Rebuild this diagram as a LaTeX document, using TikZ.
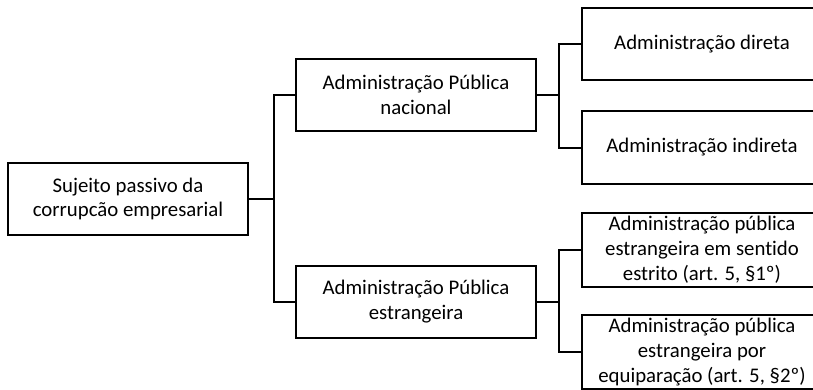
\documentclass[tikz,border=0pt]{standalone}
\usepackage{fontspec}
\setmainfont{Carlito}[Ligatures=NoCommon]
\usetikzlibrary{positioning, calc}

\begin{document}
\begin{tikzpicture}[
    x=0.5pt, y=-0.5pt,
    every node/.style={font=\fontsize{10.4}{12.4}\selectfont},
    box/.style={rectangle, draw, line width=1pt, minimum width=120pt, minimum height=36pt, inner sep=0.5pt, align=center, fill=white},
    conn/.style={line width=1pt},
]
\useasboundingbox (0,0) rectangle (813,390);

% === Root ===
\node[box] (root) at (128,199) {Sujeito passivo da\\corrupcão empresarial};

% === Second level ===
\node[box] (nac) at (416,95) {Administração Pública\\nacional};
\node[box] (est) at (416,301.5) {Administração Pública\\estrangeira};

\draw[conn] (root.east) -- ++(25,0) coordinate (busL);
\draw[conn] (nac.west) -| (busL) |- (est.west);

% === Third level: nacional ===
\node[box] (dir) at (702,44) {Administração direta};
\node[box] (ind) at (702,147.5) {Administração indireta};

\draw[conn] (nac.east) -- ++(22,0) coordinate (busN);
\draw[conn] (dir.west) -| (busN) |- (ind.west);

% === Third level: estrangeira ===
\node[box, minimum height=37pt] (estr) at (702,250) {Administração pública\\estrangeira em sentido\\estrito (art. 5, §1º)};
\node[box, minimum height=37pt] (equi) at (702,352) {Administração pública\\estrangeira por\\equiparação (art. 5, §2º)};

\draw[conn] (est.east) -- ++(22,0) coordinate (busE);
\draw[conn] (estr.west) -| (busE) |- (equi.west);

\end{tikzpicture}
\end{document}
